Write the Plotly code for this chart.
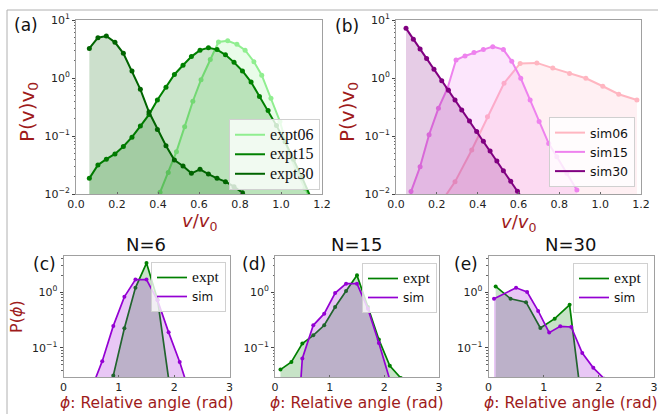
import plotly.graph_objects as go

# ---------------- data ----------------
# (a) experiment: speed distributions P(v)v0 vs v/v0
expt_v = [0.065, 0.107, 0.148, 0.19, 0.231, 0.273, 0.314, 0.356, 0.397, 0.439, 0.48, 0.522, 0.563,
          0.605, 0.646, 0.688, 0.729, 0.771, 0.812, 0.854, 0.895, 0.937, 0.978, 1.02, 1.061, 1.103, 1.144]
expt15_p = [0.0186, 0.0316, 0.0398, 0.049, 0.066, 0.0955, 0.148, 0.234, 0.417, 0.692, 1.15, 1.66, 2.34,
            3.02, 3.31, 3.09, 2.51, 1.86, 1.32, 0.851, 0.479, 0.275, 0.151, 0.0794, 0.0398, 0.0191, 0.0089]
expt30_v = [0.065, 0.107, 0.148, 0.19, 0.231, 0.273, 0.314, 0.356, 0.397, 0.439, 0.48, 0.522, 0.563,
            0.605, 0.646, 0.688, 0.729, 0.771, 0.812, 0.854]
expt30_p = [3.24, 4.95, 5.30, 4.12, 2.66, 1.32, 0.638, 0.259, 0.130, 0.068, 0.0385, 0.0304, 0.0227,
            0.0266, 0.0221, 0.0186, 0.0163, 0.0134, 0.0105, 0.0079]
expt06_v = [0.41, 0.45, 0.49, 0.53, 0.57, 0.61, 0.655, 0.695, 0.74, 0.785, 0.825, 0.868, 0.906,
            0.951, 0.995, 1.036, 1.077, 1.117, 1.155]
expt06_p = [0.0107, 0.0234, 0.0537, 0.145, 0.398, 0.933, 2.09, 4.17, 4.37, 3.80, 3.02, 1.91, 1.12,
            0.447, 0.178, 0.0537, 0.024, 0.0126, 0.0071]

# (b) simulation
sim06_v = [0.216, 0.289, 0.371, 0.448, 0.529, 0.608, 0.69, 0.768, 0.85, 0.93, 1.013, 1.091, 1.18]
sim06_p = [0.0068, 0.0162, 0.0575, 0.214, 0.813, 1.78, 1.82, 1.48, 1.20, 0.99, 0.72, 0.525, 0.417]
sim15_v = [0.0735, 0.118, 0.162, 0.208, 0.252, 0.294, 0.338, 0.382, 0.428, 0.474, 0.526, 0.567,
           0.611, 0.657, 0.701, 0.748, 0.788, 0.837, 0.886]
sim15_p = [0.011, 0.0295, 0.105, 0.302, 0.66, 2.04, 2.40, 2.75, 3.09, 3.47, 3.09, 1.95,
           0.99, 0.417, 0.178, 0.074, 0.0437, 0.0229, 0.0117]
sim30_v = [0.049, 0.085, 0.118, 0.150, 0.186, 0.224, 0.257, 0.289, 0.322, 0.360, 0.395, 0.428,
           0.461, 0.494, 0.526, 0.562, 0.595, 0.627]
sim30_p = [7.18, 4.68, 3.16, 2.16, 1.41, 0.90, 0.617, 0.417, 0.282, 0.182, 0.119, 0.0813,
           0.055, 0.0372, 0.0251, 0.0166, 0.0112, 0.0076]

# (c) N=6 relative angle distributions
c_expt_phi = [0.9, 1.1, 1.3, 1.5, 1.7, 1.9]
c_expt_p = [0.032, 0.225, 1.19, 3.3, 0.73, 0.028]
c_sim_phi = [0.5, 0.7, 0.9, 1.1, 1.3, 1.5, 1.7, 1.9, 2.1, 2.3]
c_sim_p = [0.018, 0.058, 0.248, 0.82, 1.67, 1.67, 0.71, 0.19, 0.056, 0.0135]
# (d) N=15
d_expt_phi = [0.1, 0.3, 0.5, 0.7, 0.9, 1.1, 1.3, 1.5, 1.7, 1.9, 2.1, 2.3]
d_expt_p = [0.041, 0.056, 0.12, 0.168, 0.254, 0.54, 1.04, 1.99, 0.54, 0.141, 0.048, 0.029]
d_sim_phi = [0.3, 0.5, 0.7, 0.9, 1.1, 1.3, 1.5, 1.7, 1.9, 2.1]
d_sim_p = [0.0001, 0.065, 0.254, 0.41, 0.96, 1.41, 1.41, 0.50, 0.123, 0.027]
# (e) N=30
e_expt_phi = [0.13, 0.40, 0.68, 0.94, 1.2, 1.47, 1.72]
e_expt_p = [1.26, 0.76, 0.66, 0.228, 0.334, 0.59, 0.006]
e_sim_phi = [0.1, 0.5, 0.7, 0.9, 1.1, 1.3, 1.5, 1.7, 1.9, 2.1]
e_sim_p = [0.76, 1.19, 1.0, 0.46, 0.188, 0.244, 0.237, 0.081, 0.044, 0.028]

v_ticks = [0.0, 0.2, 0.4, 0.6, 0.8, 1.0, 1.2]
phi_ticks = [0, 1, 2, 3]
top_ytick_vals = [0.01, 0.1, 1, 10]
top_ytick_text = ["10<sup>−2</sup>", "10<sup>−1</sup>", "10<sup>0</sup>", "10<sup>1</sup>"]
bot_ytick_vals = [0.1, 1]
bot_ytick_text = ["10<sup>−1</sup>", "10<sup>0</sup>"]

# ---------------- layout helpers ----------------
W, H = 658, 414
def fx(p): return p / W
def fy(p): return 1 - p / H

RED = "#9e1b1b"
TICKFONT = dict(family="DejaVu Sans", size=11, color="#222")
BASE = 1e-5

fig = go.Figure()

def add_series(x, y, color, fill, name, ax, legend, lw, ms, fsize, fam=None):
    n = ax if ax != 1 else ""
    xa, ya = f"x{n}", f"y{n}"
    style = f"font-size:{fsize}px" + (f";font-family:{fam}" if fam else "")
    fig.add_trace(go.Scatter(x=list(x) + [x[-1], x[0]], y=list(y) + [BASE, BASE], mode="lines",
                             fill="toself", fillcolor=fill, line=dict(width=0),
                             showlegend=False, hoverinfo="skip", xaxis=xa, yaxis=ya))
    fig.add_trace(go.Scatter(x=x, y=y, mode="lines", line=dict(color=color, width=lw),
                             name=f'<span style="{style}">{name}</span>',
                             legend=legend, xaxis=xa, yaxis=ya))
    fig.add_trace(go.Scatter(x=x, y=y, mode="markers", marker=dict(color=color, size=ms),
                             showlegend=False, xaxis=xa, yaxis=ya))

# (a)
add_series(expt06_v, expt06_p, "#90ee90", "rgba(144,238,144,0.2)", "expt06", 1, "legend", 2, 5, 16)
add_series(expt_v, expt15_p, "#008000", "rgba(0,128,0,0.2)", "expt15", 1, "legend", 2, 5, 16)
add_series(expt30_v, expt30_p, "#006400", "rgba(0,100,0,0.2)", "expt30", 1, "legend", 2, 5, 16)
# (b)
add_series(sim06_v, sim06_p, "#ffb6c1", "rgba(255,182,193,0.2)", "sim06", 2, "legend2", 2, 5, 12.5)
add_series(sim15_v, sim15_p, "#ee82ee", "rgba(238,130,238,0.2)", "sim15", 2, "legend2", 2, 5, 12.5)
add_series(sim30_v, sim30_p, "#800080", "rgba(128,0,128,0.2)", "sim30", 2, "legend2", 2, 5, 12.5)
# (c)-(e)
GREEN, VIOLET = "#008000", "#9400d3"
GF, VF = "rgba(0,128,0,0.22)", "rgba(148,0,211,0.22)"
for ax, lg, ex, ey, sx, sy in [(3, "legend3", c_expt_phi, c_expt_p, c_sim_phi, c_sim_p),
                               (4, "legend4", d_expt_phi, d_expt_p, d_sim_phi, d_sim_p),
                               (5, "legend5", e_expt_phi, e_expt_p, e_sim_phi, e_sim_p)]:
    add_series(ex, ey, GREEN, GF, "expt", ax, lg, 1.7, 4, 15.5)
    add_series(sx, sy, VIOLET, VF, "sim", ax, lg, 1.7, 4, 12, "DejaVu Sans")

# axes
def xaxis(dom, rng, ticks, fmt):
    return dict(domain=[fx(dom[0]), fx(dom[1])], range=rng, tickvals=ticks,
                ticktext=[fmt.format(t) for t in ticks], showgrid=False, zeroline=False,
                showline=True, mirror=True, linecolor="#a0a0a0", linewidth=1,
                ticks="inside", ticklen=2, tickcolor="#666", tickfont=TICKFONT)

def yaxis(dom, rng, vals, text, minor, anchor):
    return dict(domain=[fy(dom[1]), fy(dom[0])], type="log", range=rng, tickmode="array",
                tickvals=vals, ticktext=text, showgrid=False, zeroline=False,
                showline=True, mirror=True, linecolor="#a0a0a0", linewidth=1,
                ticks="outside", ticklen=3, tickcolor="#444", tickfont=TICKFONT, anchor=anchor,
                minor=dict(tickmode="array", tickvals=minor, ticks="outside", ticklen=1.5,
                           tickcolor="#666", showgrid=False))

top_minor = [m * 10 ** e for e in (-2, -1, 0) for m in range(2, 10)]
bot_minor = [0.04, 0.05, 0.06, 0.07, 0.08, 0.09, 0.2, 0.3, 0.4, 0.5, 0.6, 0.7, 0.8, 0.9, 2, 3, 4]

TOPY = (20, 194)
BOTY = (256, 377)
layout_axes = dict(
    xaxis=xaxis((76, 322), [0, 1.2], v_ticks, "{:.1f}") | dict(anchor="y"),
    yaxis=yaxis(TOPY, [-2, 1], top_ytick_vals, top_ytick_text, top_minor, "x"),
    xaxis2=xaxis((396, 641), [0, 1.2], v_ticks, "{:.1f}") | dict(anchor="y2"),
    yaxis2=yaxis(TOPY, [-2, 1], top_ytick_vals, top_ytick_text, top_minor, "x2"),
    xaxis3=xaxis((63.5, 229.5), [0, 3], phi_ticks, "{}") | dict(anchor="y3"),
    yaxis3=yaxis(BOTY, [-1.52, 0.645], bot_ytick_vals, bot_ytick_text, bot_minor, "x3"),
    xaxis4=xaxis((275, 439), [0, 3], phi_ticks, "{}") | dict(anchor="y4"),
    yaxis4=yaxis(BOTY, [-1.52, 0.645], bot_ytick_vals, bot_ytick_text, bot_minor, "x4"),
    xaxis5=xaxis((488.5, 654), [0, 3], phi_ticks, "{}") | dict(anchor="y5"),
    yaxis5=yaxis(BOTY, [-1.52, 0.645], bot_ytick_vals, bot_ytick_text, bot_minor, "x5"),
)

def legend(xr, yb, anchor_y, fam, size):
    return dict(x=fx(xr), y=fy(yb), xanchor="right", yanchor=anchor_y,
                bgcolor="rgba(255,255,255,0.8)", bordercolor="#d0d0d0", borderwidth=1,
                font=dict(family=fam, size=size, color="#111"), itemwidth=30,
                tracegroupgap=0, valign="middle")

anns = []
def ann(text, x, y, size, color="#111", angle=0):
    anns.append(dict(text=text, x=fx(x), y=fy(y), xref="paper", yref="paper", showarrow=False,
                     xanchor="center", yanchor="middle", textangle=angle,
                     font=dict(family="DejaVu Sans", size=size, color=color)))

ann("(a)", 26, 25, 17)
ann("(b)", 347, 26, 17)
ann("(c)", 44, 264, 17)
ann("(d)", 254, 264, 17)
ann("(e)", 466, 264, 17)
ann("N=6", 146, 245, 18)
ann("N=15", 357, 245, 18)
ann("N=30", 570, 245, 18)
ann("P(v)v<sub>0</sub>", 28, 112, 20, RED, -90)
ann("P(v)v<sub>0</sub>", 348, 112, 20, RED, -90)
ann("<i>v</i>/<i>v</i><sub>0</sub>", 199, 222, 18, RED)
ann("<i>v</i>/<i>v</i><sub>0</sub>", 518, 223, 18, RED)
ann("P(<i>ϕ</i>)", 16, 317, 16, RED, -90)
for cx in (146.5, 357, 571):
    ann("<i>ϕ</i>: Relative angle (rad)", cx, 403, 15.5, RED)

frame = dict(color="#b0b0b0", width=1)
fig.update_layout(
    width=W, height=H, margin=dict(l=0, r=0, t=0, b=0, autoexpand=False),
    paper_bgcolor="white", plot_bgcolor="white",
    font=dict(family="DejaVu Sans", color="#111"),
    legend=legend(320, 190, "bottom", "Liberation Serif", 12.7),
    legend2=legend(635, 187, "bottom", "DejaVu Sans", 12.5),
    legend3=legend(226, 262, "top", "Liberation Serif", 11.5),
    legend4=legend(437, 263, "top", "Liberation Serif", 11.5),
    legend5=legend(648, 263, "top", "Liberation Serif", 11.5),
    annotations=anns,
    shapes=[dict(type="line", xref="paper", yref="paper", x0=fx(7), x1=1, y0=fy(10), y1=fy(10),
                 line=frame, layer="above"),
            dict(type="line", xref="paper", yref="paper", x0=fx(7), x1=fx(7), y0=0, y1=fy(10),
                 line=frame, layer="above")],
    **layout_axes,
)

fig.write_html("out.html", config={"displayModeBar": False},
               post_script="document.body.style.margin='0';document.body.style.overflow='hidden';")
